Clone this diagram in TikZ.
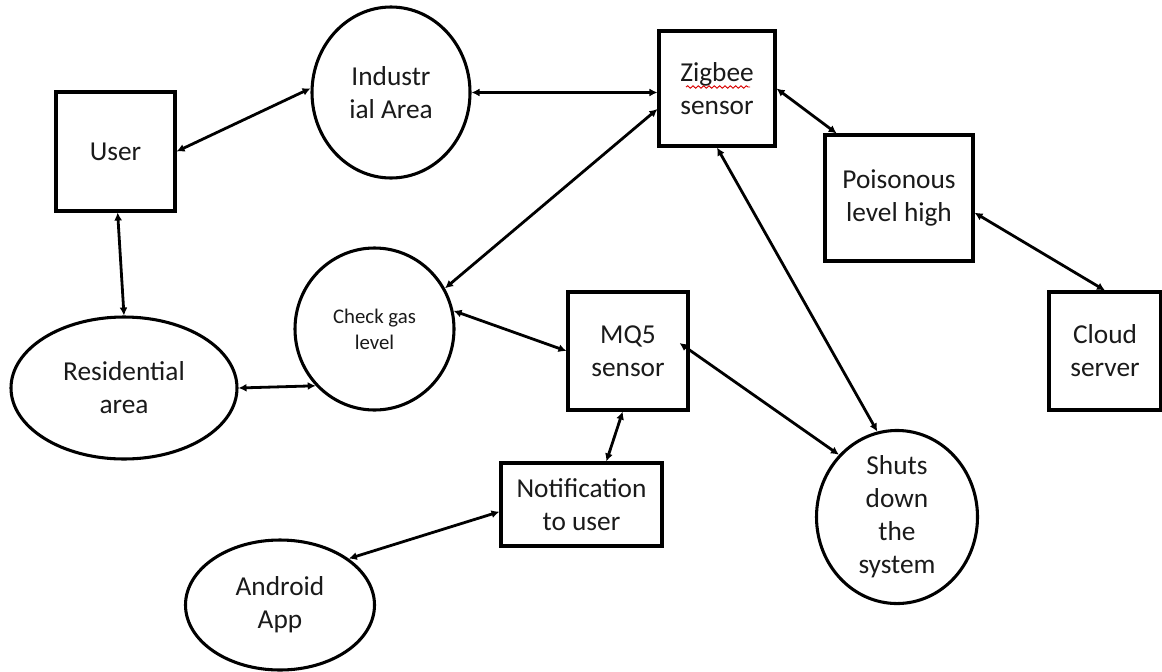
\documentclass[tikz,border=0pt]{standalone}
\usepackage{fontspec}
\setmainfont{Carlito}
\usetikzlibrary{arrows.meta,shapes.geometric,decorations.pathmorphing}
\definecolor{ink}{HTML}{1A1A1A}
\tikzset{
  box/.style={draw, line width=2.3pt, rectangle, inner sep=0pt, align=center, text=ink, font=\fontsize{20.5}{24.75}\selectfont},
  oval/.style={draw, line width=2.3pt, ellipse, inner sep=0pt, align=center, text=ink, font=\fontsize{20.5}{24.75}\selectfont},
  link/.style={line width=2.1pt, {Latex[length=6pt,width=6pt]}-{Latex[length=6pt,width=6pt]}},
}
\begin{document}
\begin{tikzpicture}[x=0.75pt,y=-0.75pt]
\useasboundingbox (0,0) rectangle (1162,671);
\fill[white] (0,0) rectangle (1162,671);
% nodes
\node[box, minimum width=89.25pt, minimum height=89.25pt] (user) at (115.5,151.5) {User};
\node[oval, minimum width=118.5pt, minimum height=128.25pt] (ind) at (391,92.5) {Industr\\ial Area};
\node[box, minimum width=87pt, minimum height=86.25pt] (zig) at (717,88.5) {Zigbee\\sensor};
\node[box, minimum width=111pt, minimum height=94.5pt] (pois) at (899,198) {Poisonous\\level high};
\node[box, minimum width=84pt, minimum height=88.5pt] (cloud) at (1105,351) {Cloud\\server};
\node[oval, minimum width=169.5pt, minimum height=106.5pt] (res) at (124,388) {Residential\\area};
\node[oval, minimum width=119.25pt, minimum height=121.5pt, font=\fontsize{15.6}{19.5}\selectfont] (chk) at (374.5,329) {Check gas\\level};
\node[box, minimum width=90pt, minimum height=88.5pt] (mq) at (628,351) {MQ5\\sensor};
\node[box, minimum width=120.75pt, minimum height=62.25pt] (notif) at (581.5,504.5) {Notification\\to user};
\node[oval, minimum width=120.75pt, minimum height=128.25pt] (shut) at (897,517) {Shuts\\down\\the\\system};
\node[oval, minimum width=141.75pt, minimum height=97.5pt] (app) at (280,605) {Android\\App};
% spell-check squiggle under Zigbee
\draw[red!85!black, line width=0.7pt, decorate, decoration={snake, amplitude=0.9pt, segment length=4pt}] (686,87) -- (750,87);
% connectors
\draw[link] (user.east) -- (ind.177);
\draw[link] (ind.east) -- (zig.west |- ind.east);
\draw[link] (zig.199) -- (chk.30);
\draw[link] (zig.east) -- (pois.134);
\draw[link] (zig.south) -- (shut.103);
\draw[link] (pois.-11) -- (cloud.north);
\draw[link] (user.-88) -- (res.north);
\draw[link] (res.east) -- (chk.224);
\draw[link] (chk.13) -- (mq.west);
\draw[link] ([xshift=-7.5pt,yshift=6pt]mq.east) -- (shut.133);
\draw[link] (mq.-95) -- (notif.60);
\draw[link] (notif.185) -- (app.34);
\end{tikzpicture}
\end{document}
